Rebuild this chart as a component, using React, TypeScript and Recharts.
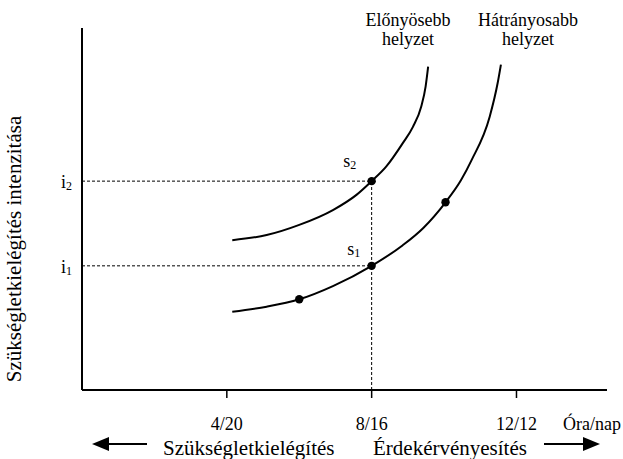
import React from "react";
import {
  ComposedChart,
  Line,
  Scatter,
  XAxis,
  YAxis,
  ReferenceLine,
  LabelList,
} from "recharts";

const SERIF = "'Liberation Serif', 'Times New Roman', serif";

// hours per day spent on the activity (x) vs. intensity (y, 0-100)
const hoursUpper = [4.15, 5.1, 6.0, 6.93, 7.58, 8, 8.4, 8.86, 9.14, 9.37, 9.49, 9.56];
const intensityUpper = [41.4, 42.8, 45.6, 49.7, 53.9, 57.7, 61.7, 68.2, 72.7, 78.3, 83.8, 89.3];

const hoursLower = [4.15, 5.1, 6.0, 6.93, 8, 8.86, 9.42, 10.04, 10.47, 10.76, 11.26, 11.48, 11.57];
const intensityLower = [21.6, 23.0, 25.05, 28.7, 34.3, 40.0, 44.7, 51.85, 58.0, 63.5, 75.5, 84.8, 89.9];

const dotHours = [6.0, 8, 8, 10.04];
const dotIntensity = [25.05, 34.3, 57.7, 51.85];
const dotNames = ["", "1", "2", ""];

const levelValues = [34.3, 57.7];
const levelNames = ["1", "2"];

const hourTicks = [4, 8, 12];
const hourTickLabels = ["4/20", "8/16", "12/12"];

const upperData = hoursUpper.map((x, i) => ({ x, y: intensityUpper[i] }));
const lowerData = hoursLower.map((x, i) => ({ x, y: intensityLower[i] }));
const dotData = dotHours.map((x, i) => ({ x, y: dotIntensity[i], name: dotNames[i] }));

const labelShift: Record<string, [number, number]> = {
  "1": [-20, -6],
  "2": [-24, -10],
};

const HourTick = (props: any) => {
  const { x, y, payload } = props;
  const idx = hourTicks.indexOf(payload.value);
  return (
    <text x={x} y={y + 30} textAnchor="middle" fontFamily={SERIF} fontSize={18} fill="#000">
      {hourTickLabels[idx]}
    </text>
  );
};

const LevelTick = (props: any) => {
  const { y, payload } = props;
  const idx = levelValues.indexOf(payload.value);
  return (
    <text x={72} y={y + 7} textAnchor="end" fontFamily={SERIF} fontSize={18} fill="#000">
      <tspan>i</tspan>
      <tspan fontSize={12} dy={2}>{levelNames[idx]}</tspan>
    </text>
  );
};

const PointLabel = (props: any) => {
  const { x, y, value } = props;
  if (!value) return null;
  const [dx, dy] = labelShift[value];
  return (
    <text x={x + dx} y={y + dy} fontFamily={SERIF} fontSize={18} fill="#000">
      <tspan>s</tspan>
      <tspan fontSize={12} dy={2}>{value}</tspan>
    </text>
  );
};

const Arrow = ({ tip, tail, y }: { tip: number; tail: number; y: number }) => {
  const dir = tail > tip ? 1 : -1;
  const base = tip + dir * 17;
  return (
    <g>
      <line x1={base} x2={tail} y1={y} y2={y} stroke="#000" strokeWidth={2} />
      <polygon points={`${tip},${y} ${base},${y - 7} ${base},${y + 7}`} fill="#000" />
    </g>
  );
};

export default function App() {
  return (
    <div style={{ position: "absolute", left: 0, top: 0, width: 623, height: 459, background: "#fff" }}>
      <ComposedChart width={623} height={459} margin={{ top: 28, right: 16, bottom: 0, left: 42 }}>
        <XAxis
          type="number"
          dataKey="x"
          domain={[0, 14.5]}
          ticks={hourTicks}
          height={69}
          tickSize={8}
          axisLine={{ stroke: "#000", strokeWidth: 2 }}
          tickLine={{ stroke: "#000", strokeWidth: 1.5 }}
          tick={<HourTick />}
          allowDataOverflow
        />
        <YAxis
          type="number"
          domain={[0, 100]}
          ticks={levelValues}
          width={40}
          axisLine={{ stroke: "#000", strokeWidth: 2 }}
          tickLine={false}
          tick={<LevelTick />}
          allowDataOverflow
        />
        <ReferenceLine
          segment={[{ x: 0, y: levelValues[1] }, { x: 8, y: levelValues[1] }]}
          stroke="#000"
          strokeDasharray="3 2"
        />
        <ReferenceLine
          segment={[{ x: 0, y: levelValues[0] }, { x: 8, y: levelValues[0] }]}
          stroke="#000"
          strokeDasharray="3 2"
        />
        <ReferenceLine
          segment={[{ x: 8, y: 0 }, { x: 8, y: levelValues[1] }]}
          stroke="#000"
          strokeDasharray="3 2"
        />
        <Line data={upperData} dataKey="y" type="monotone" stroke="#000" strokeWidth={2} dot={false} isAnimationActive={false} />
        <Line data={lowerData} dataKey="y" type="monotone" stroke="#000" strokeWidth={2} dot={false} isAnimationActive={false} />
        <Scatter data={dotData} dataKey="y" fill="#000" shape={(p: any) => <circle cx={p.cx} cy={p.cy} r={4.2} fill="#000" />} isAnimationActive={false}>
          <LabelList dataKey="name" content={<PointLabel />} />
        </Scatter>

        <text transform="translate(21,249) rotate(-90)" textAnchor="middle" fontFamily={SERIF} fontSize={21} fill="#000">
          Szükségletkielégítés intenzitása
        </text>
        <text x={408} y={26} textAnchor="middle" fontFamily={SERIF} fontSize={18} fill="#000">Előnyösebb</text>
        <text x={408} y={45} textAnchor="middle" fontFamily={SERIF} fontSize={18} fill="#000">helyzet</text>
        <text x={528} y={26} textAnchor="middle" fontFamily={SERIF} fontSize={18} fill="#000">Hátrányosabb</text>
        <text x={528} y={45} textAnchor="middle" fontFamily={SERIF} fontSize={18} fill="#000">helyzet</text>
        <text x={563} y={430} fontFamily={SERIF} fontSize={18} fill="#000">Óra/nap</text>
        <text x={163} y={455} fontFamily={SERIF} fontSize={21} fill="#000">Szükségletkielégítés</text>
        <text x={373} y={455} fontFamily={SERIF} fontSize={21} fill="#000">Érdekérvényesítés</text>
        <Arrow tip={92} tail={147} y={444} />
        <Arrow tip={600} tail={544} y={444} />
      </ComposedChart>
    </div>
  );
}
